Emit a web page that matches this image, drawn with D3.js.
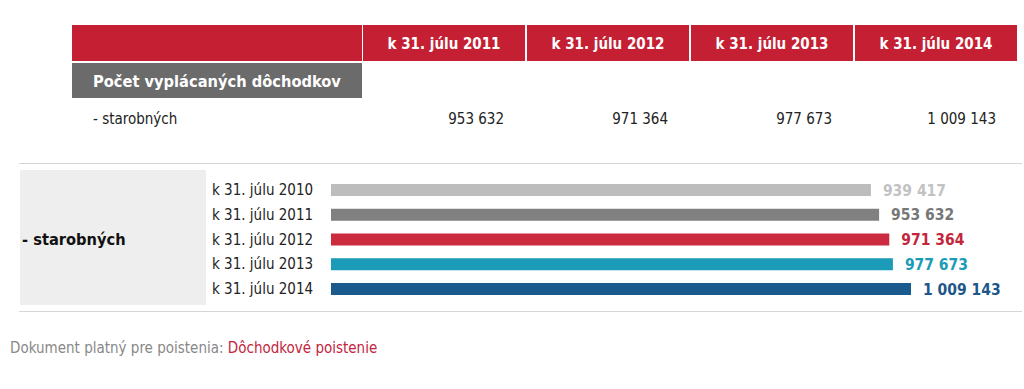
<!DOCTYPE html>
<html>
<head>
<meta charset="utf-8">
<script src="https://cdn.jsdelivr.net/npm/d3@7"></script>
<style>
  body { margin: 0; background: #fff; }
  svg text { font-family: Tahoma, "DejaVu Sans Condensed", "DejaVu Sans", sans-serif; }
</style>
</head>
<body>
<div id="chart"></div>
<script>
// data
var tableYears = ["k 31. júlu 2011", "k 31. júlu 2012", "k 31. júlu 2013", "k 31. júlu 2014"];
var tableValues = [953632, 971364, 977673, 1009143];
var barYears = ["k 31. júlu 2010", "k 31. júlu 2011", "k 31. júlu 2012", "k 31. júlu 2013", "k 31. júlu 2014"];
var barValues = [939417, 953632, 971364, 977673, 1009143];
var barColors = ["#bdbdbd", "#808080", "#cc2a3f", "#1b9bb8", "#1b5a8d"];
var labelColors = ["#c2c2c2", "#777777", "#c4263b", "#1c9bb6", "#1d5689"];

var W = 1024, H = 389;
var fmt = function(v) { return d3.format(",")(v).replace(/,/g, " "); };

var svg = d3.select("#chart").append("svg")
    .attr("width", W).attr("height", H);

// ---- table part
var colScale = d3.scaleBand().domain(tableYears).range([363, 1017]).paddingInner(0.012);

svg.append("rect").attr("x", 72).attr("y", 25).attr("width", 290).attr("height", 36).attr("fill", "#c41f33");
svg.selectAll("rect.head").data(tableYears).enter().append("rect")
    .attr("class", "head")
    .attr("x", function(d) { return colScale(d); })
    .attr("y", 25)
    .attr("width", colScale.bandwidth())
    .attr("height", 36)
    .attr("fill", "#c41f33");
svg.selectAll("text.head").data(tableYears).enter().append("text")
    .attr("class", "head")
    .attr("x", function(d) { return colScale(d) + colScale.bandwidth() / 2; })
    .attr("y", 49)
    .attr("text-anchor", "middle")
    .attr("fill", "#fff")
    .attr("font-weight", "bold")
    .attr("font-size", 15)
    .text(function(d) { return d; });

svg.append("rect").attr("x", 72).attr("y", 63).attr("width", 290).attr("height", 35).attr("fill", "#6b6b6b");
svg.append("text").attr("x", 93).attr("y", 87).attr("fill", "#fff")
    .attr("font-weight", "bold").attr("font-size", 16.3)
    .text("Počet vyplácaných dôchodkov");

svg.append("text").attr("x", 93).attr("y", 124).attr("fill", "#222").attr("font-size", 15)
    .text("- starobných");
svg.selectAll("text.val").data(tableValues).enter().append("text")
    .attr("class", "val")
    .attr("x", function(d, i) { return colScale(tableYears[i]) + colScale.bandwidth() - 21; })
    .attr("y", 124)
    .attr("text-anchor", "end")
    .attr("fill", "#222")
    .attr("font-size", 15)
    .text(fmt);

// ---- bar part
svg.append("line").attr("x1", 19).attr("x2", 1022).attr("y1", 163.5).attr("y2", 163.5).attr("stroke", "#d6d6d6");
svg.append("line").attr("x1", 19).attr("x2", 1022).attr("y1", 311.5).attr("y2", 311.5).attr("stroke", "#d6d6d6");
svg.append("rect").attr("x", 20).attr("y", 170).attr("width", 186).attr("height", 135).attr("fill", "#eeeeee");
svg.append("text").attr("x", 22).attr("y", 245).attr("fill", "#111")
    .attr("font-weight", "bold").attr("font-size", 16.3).text("- starobných");

var xScale = d3.scaleLinear().domain([0, d3.max(barValues)]).range([331, 911]);
var yScale = d3.scalePoint().domain(barYears).range([190, 289]);
var barH = 12;

svg.selectAll("text.lbl").data(barYears).enter().append("text")
    .attr("class", "lbl")
    .attr("x", 212)
    .attr("y", function(d) { return yScale(d) + 5; })
    .attr("fill", "#222")
    .attr("font-size", 15)
    .text(function(d) { return d; });

svg.selectAll("rect.bar").data(barValues).enter().append("rect")
    .attr("class", "bar")
    .attr("x", xScale(0))
    .attr("y", function(d, i) { return yScale(barYears[i]) - barH / 2; })
    .attr("width", function(d) { return xScale(d) - xScale(0); })
    .attr("height", barH)
    .attr("fill", function(d, i) { return barColors[i]; });

svg.selectAll("text.bv").data(barValues).enter().append("text")
    .attr("class", "bv")
    .attr("x", function(d) { return xScale(d) + 12; })
    .attr("y", function(d, i) { return yScale(barYears[i]) + 5.5; })
    .attr("fill", function(d, i) { return labelColors[i]; })
    .attr("font-weight", "bold")
    .attr("font-size", 15.5)
    .text(fmt);

// ---- footer
var foot = svg.append("text").attr("x", 10).attr("y", 353).attr("font-size", 15);
foot.append("tspan").attr("fill", "#888").text("Dokument platný pre poistenia: ");
foot.append("tspan").attr("fill", "#c3243e").text("Dôchodkové poistenie");
</script>
</body>
</html>
